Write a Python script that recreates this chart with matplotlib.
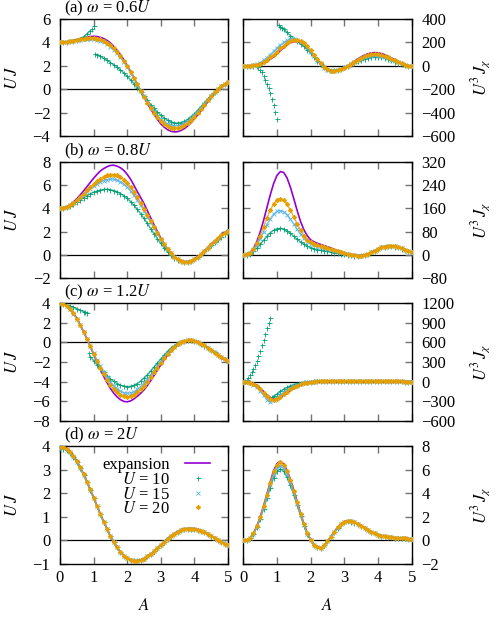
import numpy as np
import matplotlib.pyplot as plt

plt.rcParams['font.family'] = 'Liberation Serif'
plt.rcParams['mathtext.fontset'] = 'stix'
plt.rcParams['font.size'] = 12

# driving amplitude grid
A = np.linspace(0, 5, 51)

# ---- (a) omega = 0.6U ----
uj_exp_a = [4.00, 4.01, 4.05, 4.10, 4.17, 4.24, 4.32, 4.40, 4.46, 4.50, 4.52, 4.50, 4.43, 4.33, 4.17, 3.95, 3.66, 3.33, 2.96, 2.51, 2.03,
            1.50, 0.95, 0.41, -0.15, -0.70, -1.21, -1.70, -2.15, -2.58, -2.96, -3.24, -3.46, -3.59, -3.65, -3.63, -3.53, -3.37, -3.15, -2.87, -2.54,
            -2.19, -1.82, -1.44, -1.05, -0.67, -0.33, -0.04, 0.21, 0.43, 0.63]
uj_u10_a = [4.00, 4.01, 4.04, 4.09, 4.14, 4.21, 4.31, 4.48, 4.72, 5.00, 5.38, 2.95, 2.80, 2.64, 2.47, 2.28, 2.08, 1.87, 1.64, 1.38, 1.10,
            0.80, 0.47, 0.12, -0.24, -0.60, -0.96, -1.31, -1.64, -1.95, -2.23, -2.46, -2.65, -2.79, -2.87, -2.89, -2.85, -2.75, -2.58, -2.36, -2.10,
            -1.80, -1.48, -1.15, -0.82, -0.50, -0.21, 0.05, 0.27, 0.45, 0.60]
uj_u15_a = [4.00, 4.01, 4.04, 4.08, 4.13, 4.18, 4.23, 4.27, 4.29, 4.30, 4.28, 4.23, 4.14, 4.01, 3.84, 3.62, 3.36, 3.06, 2.71, 2.32, 1.88,
            1.41, 0.90, 0.38, -0.13, -0.62, -1.09, -1.52, -1.91, -2.26, -2.56, -2.80, -2.98, -3.09, -3.13, -3.12, -3.05, -2.92, -2.73, -2.50, -2.22,
            -1.91, -1.58, -1.23, -0.89, -0.56, -0.25, 0.03, 0.27, 0.46, 0.62]
uj_u20_a = [4.00, 4.01, 4.04, 4.09, 4.15, 4.21, 4.27, 4.32, 4.36, 4.38, 4.37, 4.33, 4.25, 4.13, 3.97, 3.76, 3.50, 3.19, 2.84, 2.43, 1.98,
            1.48, 0.95, 0.41, -0.13, -0.66, -1.15, -1.60, -2.02, -2.40, -2.73, -2.99, -3.18, -3.30, -3.35, -3.33, -3.25, -3.10, -2.90, -2.65, -2.35,
            -2.02, -1.67, -1.31, -0.95, -0.60, -0.28, 0.00, 0.24, 0.45, 0.63]
jx_exp_a = [0, 0, 0, 1, 4, 10, 20, 35, 55, 78, 103, 130, 156, 180, 198, 207, 206, 195, 175, 148, 116,
            82, 48, 16, -11, -31, -43, -47, -43, -33, -18, 0, 19, 39, 58, 76, 91, 103, 110, 113, 111,
            105, 95, 82, 67, 52, 37, 23, 11, 2, -4]
jx_u10_a = [0, 0, 0, -1, -5, -32, -85, -152, -232, -332, -455, 335, 312, 285, 258, 232, 212, 190, 165, 138, 108,
            76, 44, 14, -11, -27, -36, -38, -34, -26, -14, -1, 13, 27, 40, 52, 62, 70, 75, 77, 76,
            72, 65, 56, 46, 36, 26, 16, 8, 2, -2]
jx_u15_a = [0, 0, 2, 6, 14, 28, 47, 70, 96, 124, 152, 178, 200, 217, 226, 228, 221, 206, 183, 153, 118,
            81, 45, 12, -15, -32, -41, -42, -37, -27, -14, 1, 17, 33, 48, 61, 72, 81, 87, 89, 88,
            83, 75, 65, 53, 41, 29, 18, 9, 2, -3]
jx_u20_a = [0, 0, 1, 3, 8, 17, 32, 50, 72, 96, 122, 148, 172, 195, 212, 222, 222, 212, 193, 165, 131,
            94, 56, 20, -10, -30, -41, -44, -40, -30, -16, 1, 18, 36, 53, 68, 81, 91, 97, 100, 98,
            93, 84, 73, 60, 46, 33, 20, 10, 2, -3]
# extra U=10 points close to the resonance
a_res_uj_a = [0.95, 1.05]
uj_u10_res_a = [5.17, 3.05]
a_res_jx_a = [0.45, 0.55, 0.65, 0.75, 0.85, 0.95, 1.05, 1.15]
jx_u10_res_a = [-14, -56, -118, -190, -280, -392, 345, 324]

# ---- (b) omega = 0.8U ----
uj_exp_b = [4.00, 4.04, 4.14, 4.31, 4.54, 4.82, 5.14, 5.49, 5.85, 6.22, 6.58, 6.91, 7.20, 7.41, 7.57, 7.68, 7.70, 7.62, 7.48, 7.25, 6.92,
            6.50, 5.98, 5.44, 4.93, 4.40, 3.80, 3.18, 2.58, 2.00, 1.44, 0.95, 0.50, 0.13, -0.16, -0.37, -0.50, -0.57, -0.57, -0.50, -0.34,
            -0.14, 0.10, 0.36, 0.64, 0.93, 1.20, 1.46, 1.70, 1.92, 2.11]
uj_u10_b = [4.00, 4.03, 4.11, 4.23, 4.38, 4.55, 4.73, 4.91, 5.08, 5.24, 5.38, 5.49, 5.57, 5.62, 5.63, 5.60, 5.53, 5.42, 5.27, 5.08, 4.85,
            4.58, 4.27, 3.92, 3.54, 3.13, 2.70, 2.26, 1.82, 1.39, 0.99, 0.62, 0.29, 0.01, -0.22, -0.40, -0.52, -0.58, -0.57, -0.50, -0.37,
            -0.18, 0.05, 0.30, 0.56, 0.83, 1.09, 1.34, 1.57, 1.77, 1.94]
uj_u15_b = [4.00, 4.04, 4.13, 4.27, 4.46, 4.68, 4.92, 5.17, 5.42, 5.66, 5.88, 6.08, 6.25, 6.38, 6.47, 6.51, 6.49, 6.42, 6.28, 6.07, 5.81,
            5.49, 5.12, 4.70, 4.25, 3.78, 3.29, 2.79, 2.30, 1.82, 1.36, 0.92, 0.51, 0.15, -0.14, -0.36, -0.51, -0.58, -0.58, -0.51, -0.37,
            -0.17, 0.07, 0.33, 0.60, 0.88, 1.15, 1.41, 1.65, 1.86, 2.04]
uj_u20_b = [4.00, 4.04, 4.13, 4.28, 4.48, 4.72, 4.99, 5.27, 5.55, 5.82, 6.08, 6.32, 6.53, 6.70, 6.83, 6.90, 6.90, 6.83, 6.69, 6.47, 6.18,
            5.83, 5.42, 4.96, 4.47, 3.96, 3.43, 2.90, 2.38, 1.88, 1.40, 0.95, 0.52, 0.16, -0.14, -0.36, -0.50, -0.57, -0.57, -0.50, -0.35,
            -0.15, 0.09, 0.35, 0.63, 0.91, 1.18, 1.44, 1.68, 1.89, 2.08]
jx_exp_b = [0, 2, 8, 22, 45, 78, 118, 162, 206, 245, 273, 286, 283, 264, 232, 193, 152, 115, 86, 66, 52,
            45, 40, 36, 32, 28, 24, 19, 15, 11, 7, 4, 1, -1, -2, -2, 0, 4, 9, 15, 21,
            26, 29, 31, 31, 30, 27, 23, 18, 13, 8]
jx_u10_b = [0, 1, 5, 12, 23, 36, 50, 64, 76, 85, 90, 91, 88, 82, 74, 64, 54, 45, 37, 30, 25,
            21, 18, 16, 14, 12, 10, 8, 6, 4, 2, 1, -1, -2, -2, -1, 1, 5, 10, 15, 21,
            26, 29, 31, 31, 29, 26, 22, 17, 12, 8]
jx_u15_b = [0, 2, 7, 18, 35, 56, 80, 104, 124, 140, 150, 152, 148, 138, 123, 106, 88, 71, 57, 46, 38,
            33, 29, 26, 23, 20, 17, 14, 11, 8, 5, 3, 1, -1, -2, -2, 0, 4, 9, 15, 21,
            26, 29, 31, 31, 30, 27, 23, 18, 13, 9]
jx_u20_b = [0, 2, 8, 20, 40, 66, 96, 126, 154, 175, 189, 193, 188, 174, 154, 130, 106, 84, 66, 53, 44,
            38, 34, 31, 28, 25, 21, 17, 13, 10, 6, 3, 1, -1, -2, -2, 0, 4, 9, 15, 21,
            26, 29, 31, 31, 30, 27, 23, 18, 13, 9]

# ---- (c) omega = 1.2U ----
uj_exp_c = [4.00, 3.94, 3.74, 3.42, 2.99, 2.45, 1.81, 1.11, 0.37, -0.40, -1.20, -1.98, -2.74, -3.47, -4.11, -4.70, -5.19, -5.57, -5.85, -6.03, -6.07,
            -5.98, -5.77, -5.51, -5.20, -4.85, -4.40, -3.90, -3.37, -2.83, -2.29, -1.78, -1.30, -0.87, -0.53, -0.24, -0.02, 0.14, 0.20, 0.21, 0.17,
            0.07, -0.11, -0.31, -0.56, -0.81, -1.06, -1.32, -1.57, -1.79, -1.99]
uj_u10_c = [4.00, 3.93, 3.83, 3.71, 3.58, 3.44, 3.30, 3.14, 2.97, -1.45, -1.85, -2.27, -2.68, -3.07, -3.42, -3.73, -3.99, -4.20, -4.36, -4.47, -4.52,
            -4.49, -4.38, -4.20, -3.95, -3.65, -3.30, -2.91, -2.51, -2.10, -1.69, -1.29, -0.92, -0.60, -0.32, -0.09, 0.07, 0.17, 0.21, 0.20, 0.14,
            0.03, -0.13, -0.32, -0.54, -0.77, -1.01, -1.25, -1.47, -1.67, -1.85]
uj_u15_c = [4.00, 3.93, 3.72, 3.37, 2.91, 2.36, 1.74, 1.06, 0.34, -0.39, -1.10, -1.78, -2.42, -3.02, -3.56, -4.03, -4.43, -4.75, -4.99, -5.14, -5.20,
            -5.16, -5.02, -4.80, -4.51, -4.16, -3.76, -3.33, -2.87, -2.41, -1.95, -1.51, -1.10, -0.73, -0.42, -0.17, 0.02, 0.14, 0.20, 0.20, 0.15,
            0.05, -0.11, -0.30, -0.52, -0.76, -1.00, -1.24, -1.47, -1.67, -1.86]
uj_u20_c = [4.00, 3.94, 3.74, 3.41, 2.97, 2.42, 1.79, 1.10, 0.36, -0.40, -1.15, -1.89, -2.60, -3.25, -3.83, -4.33, -4.76, -5.10, -5.35, -5.50, -5.55,
            -5.50, -5.34, -5.10, -4.79, -4.42, -4.00, -3.54, -3.06, -2.57, -2.08, -1.61, -1.18, -0.79, -0.46, -0.19, 0.01, 0.14, 0.20, 0.21, 0.16,
            0.06, -0.11, -0.31, -0.54, -0.78, -1.03, -1.28, -1.52, -1.73, -1.93]
jx_exp_c = [0, -3, -12, -30, -60, -100, -150, -200, -243, -265, -262, -240, -208, -172, -137, -105, -78, -55, -37, -22, -10,
            -2, 3, 6, 8, 9, 9, 9, 8, 8, 7, 6, 6, 5, 5, 4, 4, 4, 3, 3, 3,
            3, 2, 2, 2, 2, 2, 2, 1, 1, 1]
jx_u10_c = [0, 26, 100, 190, 315, 470, 640, 825, 975, -225, -190, -152, -118, -88, -64, -45, -31, -20, -12, -6, -1,
            3, 6, 8, 9, 10, 10, 10, 9, 9, 8, 7, 7, 6, 5, 5, 4, 4, 4, 3, 3,
            3, 3, 2, 2, 2, 2, 2, 1, 1, 1]
jx_u15_c = [0, -5, -20, -48, -90, -145, -210, -275, -320, -280, -245, -205, -165, -128, -96, -70, -49, -33, -20, -11, -4,
            1, 5, 7, 8, 9, 9, 9, 8, 8, 7, 6, 6, 5, 5, 4, 4, 4, 3, 3, 3,
            3, 2, 2, 2, 2, 2, 2, 1, 1, 1]
jx_u20_c = [0, -4, -16, -38, -72, -118, -172, -228, -272, -285, -268, -232, -192, -153, -118, -88, -63, -44, -29, -17, -8,
            -1, 4, 7, 8, 9, 9, 9, 8, 8, 7, 6, 6, 5, 5, 4, 4, 4, 3, 3, 3,
            3, 2, 2, 2, 2, 2, 2, 1, 1, 1]
a_res_uj_c = [0.75, 0.85]
uj_u10_res_c = [3.06, -1.12]
a_res_jx_c = [0.05, 0.15, 0.25, 0.35, 0.45, 0.55, 0.65, 0.75, 0.85]
jx_u10_res_c = [9, 60, 142, 250, 388, 555, 732, 905, -240]

# ---- (d) omega = 2U ----
uj_exp_d = [4.000, 3.975, 3.895, 3.765, 3.590, 3.366, 3.110, 2.815, 2.500, 2.165, 1.818, 1.470, 1.125, 0.795, 0.485, 0.188, -0.075, -0.300, -0.490, -0.640, -0.757,
            -0.830, -0.865, -0.863, -0.831, -0.768, -0.679, -0.570, -0.452, -0.322, -0.186, -0.053, 0.075, 0.195, 0.296, 0.376, 0.440, 0.485, 0.505, 0.507, 0.495,
            0.460, 0.412, 0.352, 0.272, 0.185, 0.100, 0.018, -0.063, -0.140, -0.216]
uj_u10_d = [3.90, 3.88, 3.81, 3.69, 3.52, 3.31, 3.06, 2.77, 2.46, 2.13, 1.79, 1.45, 1.11, 0.78, 0.47, 0.18, -0.08, -0.30, -0.49, -0.64, -0.75,
            -0.82, -0.85, -0.85, -0.82, -0.76, -0.67, -0.56, -0.45, -0.32, -0.18, -0.05, 0.08, 0.19, 0.29, 0.37, 0.43, 0.48, 0.50, 0.50, 0.49,
            0.45, 0.40, 0.34, 0.26, 0.18, 0.10, 0.02, -0.06, -0.14, -0.21]
uj_u15_d = [3.95, 3.93, 3.85, 3.73, 3.55, 3.34, 3.08, 2.79, 2.48, 2.15, 1.80, 1.46, 1.12, 0.79, 0.48, 0.18, -0.08, -0.30, -0.49, -0.64, -0.75,
            -0.82, -0.86, -0.86, -0.83, -0.77, -0.68, -0.57, -0.45, -0.32, -0.19, -0.05, 0.07, 0.19, 0.29, 0.37, 0.44, 0.48, 0.50, 0.50, 0.49,
            0.46, 0.41, 0.35, 0.27, 0.18, 0.10, 0.02, -0.06, -0.14, -0.21]
uj_u20_d = [3.97, 3.95, 3.87, 3.75, 3.57, 3.35, 3.10, 2.81, 2.49, 2.16, 1.81, 1.46, 1.12, 0.79, 0.48, 0.18, -0.08, -0.30, -0.49, -0.64, -0.75,
            -0.83, -0.86, -0.86, -0.83, -0.77, -0.68, -0.57, -0.45, -0.32, -0.19, -0.05, 0.07, 0.19, 0.29, 0.37, 0.44, 0.48, 0.50, 0.50, 0.49,
            0.46, 0.41, 0.35, 0.27, 0.18, 0.10, 0.02, -0.06, -0.14, -0.21]
jx_exp_d = [0.00, 0.03, 0.20, 0.60, 1.20, 1.98, 2.90, 3.90, 4.95, 5.90, 6.50, 6.70, 6.48, 5.92, 5.15, 4.25, 3.28, 2.30, 1.40, 0.62, 0.05,
            -0.38, -0.60, -0.62, -0.42, -0.08, 0.32, 0.73, 1.11, 1.40, 1.58, 1.65, 1.63, 1.54, 1.40, 1.23, 1.05, 0.88, 0.72, 0.59, 0.48,
            0.40, 0.34, 0.29, 0.26, 0.23, 0.21, 0.19, 0.17, 0.15, 0.13]
jx_u10_d = [0.00, 0.03, 0.18, 0.55, 1.10, 1.82, 2.66, 3.56, 4.48, 5.32, 5.86, 6.05, 5.86, 5.35, 4.66, 3.85, 2.97, 2.08, 1.26, 0.55, 0.02,
            -0.38, -0.60, -0.62, -0.42, -0.08, 0.31, 0.71, 1.08, 1.37, 1.55, 1.62, 1.60, 1.51, 1.37, 1.21, 1.04, 0.87, 0.72, 0.59, 0.48,
            0.40, 0.34, 0.29, 0.26, 0.23, 0.21, 0.19, 0.17, 0.15, 0.13]
jx_u15_d = [0.00, 0.03, 0.19, 0.58, 1.16, 1.90, 2.78, 3.72, 4.70, 5.58, 6.14, 6.33, 6.13, 5.60, 4.88, 4.03, 3.11, 2.18, 1.32, 0.58, 0.03,
            -0.38, -0.60, -0.62, -0.42, -0.08, 0.32, 0.72, 1.09, 1.38, 1.56, 1.63, 1.61, 1.52, 1.38, 1.22, 1.04, 0.87, 0.72, 0.59, 0.48,
            0.40, 0.34, 0.29, 0.26, 0.23, 0.21, 0.19, 0.17, 0.15, 0.13]
jx_u20_d = [0.00, 0.03, 0.20, 0.60, 1.19, 1.96, 2.88, 3.87, 4.90, 5.84, 6.42, 6.62, 6.40, 5.85, 5.09, 4.20, 3.24, 2.27, 1.38, 0.61, 0.04,
            -0.38, -0.60, -0.62, -0.42, -0.08, 0.32, 0.73, 1.10, 1.39, 1.57, 1.64, 1.62, 1.53, 1.39, 1.22, 1.05, 0.88, 0.72, 0.59, 0.48,
            0.40, 0.34, 0.29, 0.26, 0.23, 0.21, 0.19, 0.17, 0.15, 0.13]

titles = [r'(a) $\omega$ = 0.6$U$', r'(b) $\omega$ = 0.8$U$', r'(c) $\omega$ = 1.2$U$', r'(d) $\omega$ = 2$U$']
uj_ticks = [[-4, -2, 0, 2, 4, 6], [-2, 0, 2, 4, 6, 8], [-8, -6, -4, -2, 0, 2, 4], [-1, 0, 1, 2, 3, 4]]
jx_ticks = [[-600, -400, -200, 0, 200, 400], [-80, 0, 80, 160, 240, 320],
            [-600, -300, 0, 300, 600, 900, 1200], [-2, 0, 2, 4, 6, 8]]

uj_data = [(uj_exp_a, uj_u10_a, uj_u15_a, uj_u20_a), (uj_exp_b, uj_u10_b, uj_u15_b, uj_u20_b),
           (uj_exp_c, uj_u10_c, uj_u15_c, uj_u20_c), (uj_exp_d, uj_u10_d, uj_u15_d, uj_u20_d)]
jx_data = [(jx_exp_a, jx_u10_a, jx_u15_a, jx_u20_a), (jx_exp_b, jx_u10_b, jx_u15_b, jx_u20_b),
           (jx_exp_c, jx_u10_c, jx_u15_c, jx_u20_c), (jx_exp_d, jx_u10_d, jx_u15_d, jx_u20_d)]
uj_res = {0: (a_res_uj_a, uj_u10_res_a), 2: (a_res_uj_c, uj_u10_res_c)}
jx_res = {0: (a_res_jx_a, jx_u10_res_a), 2: (a_res_jx_c, jx_u10_res_c)}
# A range around the U=10 resonance where the points are not joined
uj_gap = {0: (0.95, 1.05), 2: (0.75, 0.85)}
jx_gap = {0: (0.45, 1.05), 2: (0.05, 0.85)}

c_exp, c10, c15, c20 = '#9400d3', '#009e73', '#56b4e9', '#e69f00'

W, H = 502, 621
fig = plt.figure(figsize=(W / 100, H / 100), dpi=100)

# panel boxes in pixels: (top, bottom) per row, (left, right) per column
rows_px = [(19, 136), (161.7, 278.3), (303.3, 420.7), (446, 564)]
cols_px = [(60, 228), (243.3, 411.7)]


def series(ax, y, color, marker, ms, label, z, gap=None):
    y = np.asarray(y, dtype=float)
    yl = y.copy()
    if gap is not None:
        yl[(A > gap[0]) & (A < gap[1])] = np.nan
    ax.plot(A, yl, color=color, lw=1.0, alpha=0.8, zorder=z)
    ax.plot(A, y, linestyle='none', marker=marker, color=color, markersize=ms,
            markeredgewidth=0.6, label=label, zorder=z)


def draw(ax, data, res, gaps, i):
    exp, u10, u15, u20 = data
    ax.axhline(0, color='black', lw=0.9, zorder=1)
    ax.plot(A, exp, color=c_exp, lw=1.2, label='expansion', zorder=2)
    series(ax, u10, c10, '+', 3.6, r'$U$ = 10', 3, gaps.get(i))
    if i in res:
        ax.plot(res[i][0], res[i][1], linestyle='none', marker='+', color=c10,
                markersize=3.6, markeredgewidth=0.6, zorder=3)
    series(ax, u15, c15, 'x', 2.8, r'$U$ = 15', 4)
    series(ax, u20, c20, (8, 2, 0), 3.4, r'$U$ = 20', 5)


for i in range(4):
    top, bot = rows_px[i]
    for j in range(2):
        left, right = cols_px[j]
        ax = fig.add_axes([left / W, 1 - bot / H, (right - left) / W, (bot - top) / H])
        if j == 0:
            draw(ax, uj_data[i], uj_res, uj_gap, i)
            yt = uj_ticks[i]
        else:
            draw(ax, jx_data[i], jx_res, jx_gap, i)
            yt = jx_ticks[i]
        ax.set_xlim(0, 5)
        ax.set_ylim(yt[0], yt[-1])
        ax.set_yticks(yt)
        ax.set_xticks([0, 1, 2, 3, 4, 5])
        ax.tick_params(direction='in', top=True, right=True, length=5, width=1.0, color='0.45',
                       labelsize=12, pad=7)
        ax.tick_params(axis='x', pad=4)
        for s in ax.spines.values():
            s.set_linewidth(1.0)
        if i < 3:
            ax.tick_params(labelbottom=False)
        else:
            ax.set_xlabel(r'$A$', fontsize=12)
            ax.xaxis.set_label_coords(0.5, -0.29)
        if j == 0:
            ax.set_ylabel(r'$U\,J$', fontsize=12)
            ax.yaxis.set_label_coords(-0.235, 0.5)
            ax.text(0.024, 1.01, titles[i], transform=ax.transAxes, ha='left', va='bottom', fontsize=12)
        else:
            ax.tick_params(labelleft=False, labelright=True)
            ax.yaxis.set_label_position('right')
            ax.set_ylabel(r'$U^3\,J_\chi$', fontsize=12, rotation=90)
            ax.yaxis.set_label_coords(1.345, 0.5)
        if i == 3 and j == 0:
            ax.legend(loc='upper right', bbox_to_anchor=(0.893, 0.905), frameon=False, markerfirst=False,
                      handlelength=1.5, handletextpad=0.9, labelspacing=-0.08, borderpad=0,
                      borderaxespad=0, numpoints=1, fontsize=12)

fig.savefig('out.png', dpi=100)
